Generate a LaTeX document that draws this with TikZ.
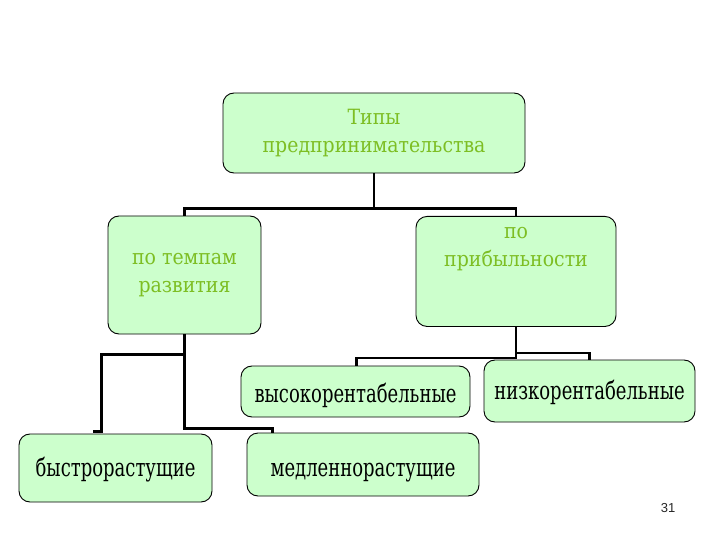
\documentclass[tikz,border=0pt]{standalone}
\usepackage{fontspec}
\setmainfont{DejaVu Serif Condensed}
\newfontfamily\leaffont{DejaVu Serif Condensed}[FakeStretch=0.8]
\newfontfamily\numfont{Liberation Sans}
\usetikzlibrary{positioning}
\definecolor{boxfill}{RGB}{204,255,204}
\definecolor{headgreen}{RGB}{125,190,35}

\tikzset{
  typebox/.style={rectangle,rounded corners=11bp,fill=boxfill,draw=black,line width=0.9bp,align=center,inner sep=0pt},
  headbox/.style={typebox,text=headgreen,font=\fontsize{21bp}{28bp}\selectfont},
  leafbox/.style={typebox,text=black,text depth=6bp,font=\leaffont\fontsize{25bp}{30bp}\selectfont},
  link/.style={draw=black,line width=2.4bp}
}

\begin{document}
\begin{tikzpicture}[x=1bp,y=-1bp]
\useasboundingbox (0,0) rectangle (720,540);
% upper level
\node[headbox,minimum width=302bp,minimum height=80bp] (types) at (374,133) {Типы\\предпринимательства};
\node[headbox,minimum width=153bp,minimum height=118bp] (tempo) at (184.5,275) {по темпам\\развития};
\node[headbox,minimum width=200bp,minimum height=110bp,anchor=north,inner ysep=5bp,text depth=49bp] (profit) at (516,216) {по\\прибыльности};
% lower level
\node[leafbox,minimum width=229bp,minimum height=51bp,text height=28bp] (high) at (355.5,391.5) {высокорентабельные};
\node[leafbox,minimum width=211bp,minimum height=62bp,text height=22bp] (low) at (589.5,391) {низкорентабельные};
\node[leafbox,minimum width=193bp,minimum height=68bp,text height=23bp] (fast) at (115.5,468) {быстрорастущие};
\node[leafbox,minimum width=232bp,minimum height=63bp,text height=30bp] (slow) at (363,464.5) {медленнорастущие};
\node[font=\numfont\fontsize{13bp}{15bp}\selectfont,text=black!85] (pagenum) at (668,508) {31};
% connectors
\draw[link] (types.south) -- ++(0,35) -| (tempo.north);
\draw[link] (types.south) -- ++(0,35) -| (profit.north);
\draw[link] (tempo.south) -- ++(0,94) -| ([xshift=26bp]slow.north west);
\draw[link] ([yshift=-20bp]tempo.south) -| ([xshift=83bp,yshift=2bp]fast.north west) -- ([xshift=74bp,yshift=2bp]fast.north west);
\draw[link] (profit.south) -- ++(0,31) -| ([xshift=116bp]high.north west);
\draw[link] ([yshift=-26bp]profit.south) -| (low.north);
\end{tikzpicture}
\end{document}
